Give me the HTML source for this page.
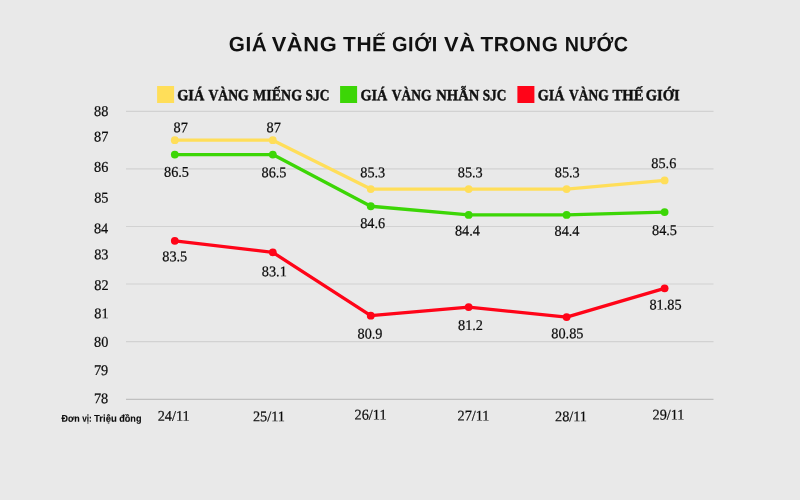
<!DOCTYPE html>
<html lang="vi">
<head>
<meta charset="utf-8">
<title>Giá vàng thế giới và trong nước</title>
<style>
html,body{margin:0;padding:0;}
body{width:800px;height:500px;overflow:hidden;background:#e9e9e9;position:relative;}
svg{position:absolute;left:0;top:0;display:block;}
#txt{will-change:transform;}
text{white-space:pre;}
.n{font-family:"Liberation Serif",serif;font-size:14.8px;fill:#0c0c0c;stroke:#0c0c0c;stroke-width:0.22px;}
.n.h{fill:#e9e9e9;stroke:#e9e9e9;stroke-width:2.2px;stroke-linejoin:round;}
.title{font-family:"Liberation Sans",sans-serif;font-weight:bold;font-size:20.9px;fill:#111111;letter-spacing:0.6px;}
.lg{font-family:"Liberation Serif",serif;font-weight:bold;font-size:15.7px;fill:#111111;stroke:#111111;stroke-width:0.45px;}
.unit{font-family:"Liberation Sans",sans-serif;font-weight:bold;font-size:9.9px;fill:#0c0c0c;stroke:#0c0c0c;stroke-width:0.1px;}
</style>
</head>
<body>
<svg id="chart" width="800" height="500" viewBox="0 0 800 500">
<line x1="126" x2="713.5" y1="111.40" y2="111.40" stroke="#d2d2d2" stroke-width="1.2"/>
<line x1="126" x2="713.5" y1="168.94" y2="168.94" stroke="#d2d2d2" stroke-width="1.2"/>
<line x1="126" x2="713.5" y1="226.48" y2="226.48" stroke="#d2d2d2" stroke-width="1.2"/>
<line x1="126" x2="713.5" y1="284.02" y2="284.02" stroke="#d2d2d2" stroke-width="1.2"/>
<line x1="126" x2="713.5" y1="341.56" y2="341.56" stroke="#d2d2d2" stroke-width="1.2"/>
<line x1="126" x2="713.5" y1="399.3" y2="399.3" stroke="#b6b6b6" stroke-width="1.0"/>
<polyline points="174.80,140.17 272.80,140.17 370.75,189.08 468.65,189.08 566.60,189.08 664.60,180.45" fill="none" stroke="#ffde59" stroke-width="3.3" stroke-linejoin="round" stroke-linecap="round"/>
<circle cx="174.80" cy="140.17" r="3.9" fill="#ffde59"/>
<circle cx="272.80" cy="140.17" r="3.9" fill="#ffde59"/>
<circle cx="370.75" cy="189.08" r="3.9" fill="#ffde59"/>
<circle cx="468.65" cy="189.08" r="3.9" fill="#ffde59"/>
<circle cx="566.60" cy="189.08" r="3.9" fill="#ffde59"/>
<circle cx="664.60" cy="180.45" r="3.9" fill="#ffde59"/>
<polyline points="174.80,154.56 272.80,154.56 370.75,206.26 468.65,214.97 566.60,214.97 664.60,212.09" fill="none" stroke="#3cd606" stroke-width="3.3" stroke-linejoin="round" stroke-linecap="round"/>
<circle cx="174.80" cy="154.56" r="3.9" fill="#3cd606"/>
<circle cx="272.80" cy="154.56" r="3.9" fill="#3cd606"/>
<circle cx="370.75" cy="206.26" r="3.9" fill="#3cd606"/>
<circle cx="468.65" cy="214.97" r="3.9" fill="#3cd606"/>
<circle cx="566.60" cy="214.97" r="3.9" fill="#3cd606"/>
<circle cx="664.60" cy="212.09" r="3.9" fill="#3cd606"/>
<polyline points="174.80,240.87 272.80,252.37 370.75,315.67 468.65,307.04 566.60,317.11 664.60,288.34" fill="none" stroke="#ff0418" stroke-width="3.3" stroke-linejoin="round" stroke-linecap="round"/>
<circle cx="174.80" cy="240.87" r="3.9" fill="#ff0418"/>
<circle cx="272.80" cy="252.37" r="3.9" fill="#ff0418"/>
<circle cx="370.75" cy="315.67" r="3.9" fill="#ff0418"/>
<circle cx="468.65" cy="307.04" r="3.9" fill="#ff0418"/>
<circle cx="566.60" cy="317.11" r="3.9" fill="#ff0418"/>
<circle cx="664.60" cy="288.34" r="3.9" fill="#ff0418"/>
<rect x="157.1" y="86" width="17" height="17" fill="#ffde59"/>
<rect x="340.1" y="86" width="17" height="17" fill="#3cd606"/>
<rect x="517.4" y="86" width="17" height="17" fill="#ff0418"/>
</svg>
<svg id="txt" width="800" height="500" viewBox="0 0 800 500">
<text class="n h" transform="translate(173.60 132.37) rotate(0.05) scale(0.9650 1)">87</text>
<text class="n h" transform="translate(266.50 132.37) rotate(0.05) scale(0.9650 1)">87</text>
<text class="n h" transform="translate(360.27 177.30) rotate(0.05) scale(0.9650 1)">85.3</text>
<text class="n h" transform="translate(457.75 177.30) rotate(0.05) scale(0.9650 1)">85.3</text>
<text class="n h" transform="translate(554.75 177.30) rotate(0.05) scale(0.9650 1)">85.3</text>
<text class="n h" transform="translate(651.35 168.00) rotate(0.05) scale(0.9650 1)">85.6</text>
<text class="n h" transform="translate(164.02 176.75) rotate(0.05) scale(0.9650 1)">86.5</text>
<text class="n h" transform="translate(261.50 177.35) rotate(0.05) scale(0.9650 1)">86.5</text>
<text class="n h" transform="translate(360.15 228.00) rotate(0.05) scale(0.9650 1)">84.6</text>
<text class="n h" transform="translate(454.90 235.60) rotate(0.05) scale(0.9650 1)">84.4</text>
<text class="n h" transform="translate(554.50 235.72) rotate(0.05) scale(0.9650 1)">84.4</text>
<text class="n h" transform="translate(652.02 235.00) rotate(0.05) scale(0.9650 1)">84.5</text>
<text class="n h" transform="translate(162.27 261.27) rotate(0.05) scale(0.9650 1)">83.5</text>
<text class="n h" transform="translate(261.83 276.27) rotate(0.05) scale(0.9650 1)">83.1</text>
<text class="n h" transform="translate(357.53 338.60) rotate(0.05) scale(0.9650 1)">80.9</text>
<text class="n h" transform="translate(458.02 330.00) rotate(0.05) scale(0.9650 1)">81.2</text>
<text class="n h" transform="translate(551.35 338.27) rotate(0.05) scale(0.9650 1)">80.85</text>
<text class="n h" transform="translate(649.48 309.60) rotate(0.05) scale(0.9650 1)">81.85</text>
<text class="t n" id="ax88" transform="translate(94.03 116.00) rotate(0.05) scale(0.9650 1)">88</text>
<text class="t n" id="ax87" transform="translate(94.03 141.38) rotate(0.05) scale(0.9650 1)">87</text>
<text class="t n" id="ax86" transform="translate(94.03 171.85) rotate(0.05) scale(0.9650 1)">86</text>
<text class="t n" id="ax85" transform="translate(94.15 202.38) rotate(0.05) scale(0.9650 1)">85</text>
<text class="t n" id="ax84" transform="translate(93.90 233.15) rotate(0.05) scale(0.9650 1)">84</text>
<text class="t n" id="ax83" transform="translate(94.15 259.25) rotate(0.05) scale(0.9650 1)">83</text>
<text class="t n" id="ax82" transform="translate(94.28 289.88) rotate(0.05) scale(0.9650 1)">82</text>
<text class="t n" id="ax81" transform="translate(94.28 318.25) rotate(0.05) scale(0.9650 1)">81</text>
<text class="t n" id="ax80" transform="translate(94.03 346.85) rotate(0.05) scale(0.9650 1)">80</text>
<text class="t n" id="ax79" transform="translate(93.90 375.10) rotate(0.05) scale(0.9650 1)">79</text>
<text class="t n" id="ax78" transform="translate(93.90 403.15) rotate(0.05) scale(0.9650 1)">78</text>
<text class="t n" id="y1" transform="translate(173.60 132.37) rotate(0.05) scale(0.9650 1)">87</text>
<text class="t n" id="y2" transform="translate(266.50 132.37) rotate(0.05) scale(0.9650 1)">87</text>
<text class="t n" id="y3" transform="translate(360.27 177.30) rotate(0.05) scale(0.9650 1)">85.3</text>
<text class="t n" id="y4" transform="translate(457.75 177.30) rotate(0.05) scale(0.9650 1)">85.3</text>
<text class="t n" id="y5" transform="translate(554.75 177.30) rotate(0.05) scale(0.9650 1)">85.3</text>
<text class="t n" id="y6" transform="translate(651.35 168.00) rotate(0.05) scale(0.9650 1)">85.6</text>
<text class="t n" id="g1" transform="translate(164.02 176.75) rotate(0.05) scale(0.9650 1)">86.5</text>
<text class="t n" id="g2" transform="translate(261.50 177.35) rotate(0.05) scale(0.9650 1)">86.5</text>
<text class="t n" id="g3" transform="translate(360.15 228.00) rotate(0.05) scale(0.9650 1)">84.6</text>
<text class="t n" id="g4" transform="translate(454.90 235.60) rotate(0.05) scale(0.9650 1)">84.4</text>
<text class="t n" id="g5" transform="translate(554.50 235.72) rotate(0.05) scale(0.9650 1)">84.4</text>
<text class="t n" id="g6" transform="translate(652.02 235.00) rotate(0.05) scale(0.9650 1)">84.5</text>
<text class="t n" id="r1" transform="translate(162.27 261.27) rotate(0.05) scale(0.9650 1)">83.5</text>
<text class="t n" id="r2" transform="translate(261.83 276.27) rotate(0.05) scale(0.9650 1)">83.1</text>
<text class="t n" id="r3" transform="translate(357.53 338.60) rotate(0.05) scale(0.9650 1)">80.9</text>
<text class="t n" id="r4" transform="translate(458.02 330.00) rotate(0.05) scale(0.9650 1)">81.2</text>
<text class="t n" id="r5" transform="translate(551.35 338.27) rotate(0.05) scale(0.9650 1)">80.85</text>
<text class="t n" id="r6" transform="translate(649.48 309.60) rotate(0.05) scale(0.9650 1)">81.85</text>
<text class="t n" id="x1" transform="translate(157.65 420.75) rotate(0.05) scale(0.9650 1)">24/11</text>
<text class="t n" id="x2" transform="translate(252.90 421.13) rotate(0.05) scale(0.9650 1)">25/11</text>
<text class="t n" id="x3" transform="translate(354.60 419.58) rotate(0.05) scale(0.9650 1)">26/11</text>
<text class="t n" id="x4" transform="translate(457.52 420.52) rotate(0.05) scale(0.9650 1)">27/11</text>
<text class="t n" id="x5" transform="translate(555.02 421.25) rotate(0.05) scale(0.9650 1)">28/11</text>
<text class="t n" id="x6" transform="translate(652.52 419.58) rotate(0.05) scale(0.9650 1)">29/11</text>
<text class="t title" id="tw0" transform="translate(228.76 51.20) rotate(0.05) scale(0.9920 1)">GIÁ</text>
<text class="t title" id="tw1" transform="translate(271.64 51.20) rotate(0.05) scale(1.0455 1)">VÀNG</text>
<text class="t title" id="tw2" transform="translate(342.99 51.20) rotate(0.05) scale(1.0025 1)">THẾ</text>
<text class="t title" id="tw3" transform="translate(392.03 51.20) rotate(0.05) scale(0.9548 1)">GIỚI</text>
<text class="t title" id="tw4" transform="translate(444.05 51.20) rotate(0.05) scale(1.0453 1)">VÀ</text>
<text class="t title" id="tw5" transform="translate(480.50 51.20) rotate(0.05) scale(0.9935 1)">TRONG</text>
<text class="t title" id="tw6" transform="translate(564.71 51.20) rotate(0.05) scale(0.9443 1)">NƯỚC</text>
<text class="t lg" id="l0w0" transform="translate(177.14 100.20) rotate(0.05) scale(0.9149 1)">GIÁ</text>
<text class="t lg" id="l0w1" transform="translate(208.42 100.20) rotate(0.05) scale(0.8723 1)">VÀNG</text>
<text class="t lg" id="l0w2" transform="translate(253.07 100.20) rotate(0.05) scale(0.8915 1)">MIẾNG</text>
<text class="t lg" id="l0w3" transform="translate(305.50 100.20) rotate(0.05) scale(0.8545 1)">SJC</text>
<text class="t lg" id="l1w0" transform="translate(360.44 100.20) rotate(0.05) scale(0.9073 1)">GIÁ</text>
<text class="t lg" id="l1w1" transform="translate(391.78 100.20) rotate(0.05) scale(0.8618 1)">VÀNG</text>
<text class="t lg" id="l1w2" transform="translate(436.24 100.20) rotate(0.05) scale(0.9309 1)">NHẪN</text>
<text class="t lg" id="l1w3" transform="translate(482.72 100.20) rotate(0.05) scale(0.8454 1)">SJC</text>
<text class="t lg" id="l2w0" transform="translate(537.82 100.20) rotate(0.05) scale(0.8987 1)">GIÁ</text>
<text class="t lg" id="l2w1" transform="translate(569.07 100.20) rotate(0.05) scale(0.8567 1)">VÀNG</text>
<text class="t lg" id="l2w2" transform="translate(612.56 100.20) rotate(0.05) scale(0.9360 1)">THẾ</text>
<text class="t lg" id="l2w3" transform="translate(645.75 100.20) rotate(0.05) scale(0.9238 1)">GIỚI</text>
<text class="t unit" id="u0" transform="translate(61.50 421.65) rotate(0.05) scale(0.9024 1)">Đơn</text>
<text class="t unit" id="u1" transform="translate(82.23 421.65) rotate(0.05) scale(0.8331 1)">vị:</text>
<text class="t unit" id="u2" transform="translate(94.06 421.65) rotate(0.05) scale(0.9650 1)">Triệu</text>
<text class="t unit" id="u3" transform="translate(119.17 421.65) rotate(0.05) scale(0.9245 1)">đồng</text>
</svg>
</body>
</html>
